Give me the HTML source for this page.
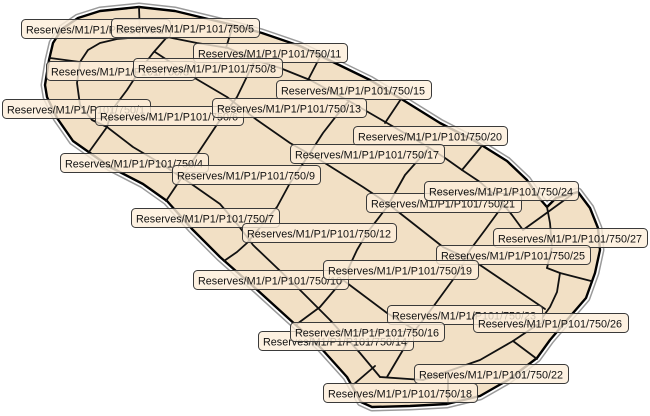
<!DOCTYPE html>
<html>
<head>
<meta charset="utf-8">
<style>
html,body{margin:0;padding:0;background:#fff;}
svg{display:block;}
.lbl rect{fill:rgba(253,238,218,0.8);stroke:#3a3a3a;stroke-width:1;}
.lbl text{font-family:"Liberation Sans",sans-serif;font-size:10.8px;fill:#111;}
.ln{fill:none;stroke:#111;stroke-width:1.8;stroke-linejoin:round;stroke-linecap:round;}
</style>
</head>
<body>
<svg width="650" height="416" viewBox="0 0 650 416" xmlns="http://www.w3.org/2000/svg">
<rect width="650" height="416" fill="#fff"/>
<g>
<polygon id="outer" points="45,85 49,60 53,43 62,29 78,18 100,11 139,7 175,11 233,25 262,33 300,46 333,62 370,80 403,100 440,123 475,141 507,161 527,180 540,199 547,207 556,198 578,192 590,208 598,228 600,250 595,273 586,298 567,320 550,340 537,358 508,380 480,396 447,404 410,406 372,407 361,402 347,377 320,347 287,317 254,287 220,257 192,229 167,201 143,184 110,167 73,141 57,118 47,97" fill="none" stroke="#9a9a9a" stroke-width="9" stroke-linejoin="round"/>
<polygon points="45,85 49,60 53,43 62,29 78,18 100,11 139,7 175,11 233,25 262,33 300,46 333,62 370,80 403,100 440,123 475,141 507,161 527,180 540,199 547,207 556,198 578,192 590,208 598,228 600,250 595,273 586,298 567,320 550,340 537,358 508,380 480,396 447,404 410,406 372,407 361,402 347,377 320,347 287,317 254,287 220,257 192,229 167,201 143,184 110,167 73,141 57,118 47,97" fill="none" stroke="#fff" stroke-width="6" stroke-linejoin="round"/>
<polygon points="45,85 49,60 53,43 62,29 78,18 100,11 139,7 175,11 233,25 262,33 300,46 333,62 370,80 403,100 440,123 475,141 507,161 527,180 540,199 547,207 556,198 578,192 590,208 598,228 600,250 595,273 586,298 567,320 550,340 537,358 508,380 480,396 447,404 410,406 372,407 361,402 347,377 320,347 287,317 254,287 220,257 192,229 167,201 143,184 110,167 73,141 57,118 47,97" fill="#f2e0c5" stroke="#000" stroke-width="2.4" stroke-linejoin="round"/>
</g>
<g class="ln-group">
<polyline class="ln" points="139,7 140,37"/>
<polyline class="ln" points="50,58 80,62"/>
<polyline class="ln" points="80,62 88,50 100,43 117,39 140,37 167,37 197,43 228,48 255,60 280,68 310,80 349,101 387,123 425,145 445,158 462,170 480,182 498,198 512,215 523,230"/>
<polyline class="ln" points="80,62 77,83 80,105 92,120 107,127"/>
<polyline class="ln" points="107,127 133,147 160,163 190,183 220,204 238,225 253,245 275,266 297,287 330,320 360,353 380,377"/>
<polyline class="ln" points="155,52 193,77 227,97 257,120 290,143 320,160 363,187 387,203 443,247 477,263 545,309"/>
<polyline class="ln" points="167,37 153,53 140,70 127,90 112,110 107,127 89,152"/>
<polyline class="ln" points="255,60 237,97 220,120 200,150 180,180 166,201"/>
<polyline class="ln" points="349,101 337,115 323,133 310,153 290,183 277,207 262,225 247,243 237,252 224,261"/>
<polyline class="ln" points="428,149 405,175 387,207 367,233 357,250 343,280 320,307 297,324"/>
<polyline class="ln" points="504,204 485,230 470,250 460,270 433,307 413,333 400,355 387,377"/>
<polyline class="ln" points="343,280 387,313 415,330"/>
<polyline class="ln" points="380,377 423,380"/>
<polyline class="ln" points="423,380 480,360 513,341 537,325 550,307 557,292 560,273"/>
<polyline class="ln" points="547,207 550,223 552,247 547,268"/>
<polyline class="ln" points="547,268 560,273 591,281"/>
<polyline class="ln" points="523,230 548,212 574,193"/>
<polyline class="ln" points="513,341 537,359"/>
<polyline class="ln" points="448,373 448,404"/>
<polyline class="ln" points="375,366 353,385"/>
<polyline class="ln" points="233,25 226,48"/>
<polyline class="ln" points="321,55 308,80"/>
<polyline class="ln" points="401,99 385,123"/>
<polyline class="ln" points="481,147 462,170"/>
</g>

<g class="lbl"><rect x="21.5" y="19.5" width="149" height="19" rx="4"/><text x="26" y="33.5">Reserves/M1/P1/P101/750/2</text></g>
<g class="lbl"><rect x="111.5" y="18.5" width="148" height="19" rx="4"/><text x="116" y="32.5">Reserves/M1/P1/P101/750/5</text></g>
<g class="lbl"><rect x="46.5" y="61.5" width="149" height="19" rx="4"/><text x="51" y="75.5">Reserves/M1/P1/P101/750/3</text></g>
<g class="lbl"><rect x="193.5" y="43.5" width="154" height="19" rx="4"/><text x="198" y="57.5">Reserves/M1/P1/P101/750/11</text></g>
<g class="lbl"><rect x="133.5" y="58.5" width="149" height="19" rx="4"/><text x="138" y="72.5">Reserves/M1/P1/P101/750/8</text></g>
<g class="lbl"><rect x="276.5" y="80.5" width="155" height="19" rx="4"/><text x="281" y="94.5">Reserves/M1/P1/P101/750/15</text></g>
<g class="lbl"><rect x="2.5" y="99.5" width="148" height="19" rx="4"/><text x="7" y="113.5">Reserves/M1/P1/P101/750/1</text></g>
<g class="lbl"><rect x="95.5" y="106.5" width="148" height="19" rx="4"/><text x="100" y="120.5">Reserves/M1/P1/P101/750/6</text></g>
<g class="lbl"><rect x="212.5" y="98.5" width="154" height="19" rx="4"/><text x="217" y="112.5">Reserves/M1/P1/P101/750/13</text></g>
<g class="lbl"><rect x="353.5" y="126.5" width="154" height="19" rx="4"/><text x="358" y="140.5">Reserves/M1/P1/P101/750/20</text></g>
<g class="lbl"><rect x="290.5" y="144.5" width="154" height="19" rx="4"/><text x="295" y="158.5">Reserves/M1/P1/P101/750/17</text></g>
<g class="lbl"><rect x="60.5" y="153.5" width="148" height="19" rx="4"/><text x="65" y="167.5">Reserves/M1/P1/P101/750/4</text></g>
<g class="lbl"><rect x="172.5" y="165.5" width="148" height="19" rx="4"/><text x="177" y="179.5">Reserves/M1/P1/P101/750/9</text></g>
<g class="lbl"><rect x="366.5" y="193.5" width="155" height="19" rx="4"/><text x="371" y="207.5">Reserves/M1/P1/P101/750/21</text></g>
<g class="lbl"><rect x="424.5" y="181.5" width="154" height="19" rx="4"/><text x="429" y="195.5">Reserves/M1/P1/P101/750/24</text></g>
<g class="lbl"><rect x="131.5" y="208.5" width="148" height="19" rx="4"/><text x="136" y="222.5">Reserves/M1/P1/P101/750/7</text></g>
<g class="lbl"><rect x="242.5" y="223.5" width="154" height="19" rx="4"/><text x="247" y="237.5">Reserves/M1/P1/P101/750/12</text></g>
<g class="lbl"><rect x="493.5" y="228.5" width="154" height="19" rx="4"/><text x="498" y="242.5">Reserves/M1/P1/P101/750/27</text></g>
<g class="lbl"><rect x="436.5" y="245.5" width="154" height="19" rx="4"/><text x="441" y="259.5">Reserves/M1/P1/P101/750/25</text></g>
<g class="lbl"><rect x="193.5" y="270.5" width="155" height="19" rx="4"/><text x="198" y="284.5">Reserves/M1/P1/P101/750/10</text></g>
<g class="lbl"><rect x="323.5" y="260.5" width="155" height="19" rx="4"/><text x="328" y="274.5">Reserves/M1/P1/P101/750/19</text></g>
<g class="lbl"><rect x="387.5" y="305.5" width="155" height="19" rx="4"/><text x="392" y="319.5">Reserves/M1/P1/P101/750/23</text></g>
<g class="lbl"><rect x="473.5" y="313.5" width="155" height="19" rx="4"/><text x="478" y="327.5">Reserves/M1/P1/P101/750/26</text></g>
<g class="lbl"><rect x="258.5" y="331.5" width="155" height="19" rx="4"/><text x="263" y="345.5">Reserves/M1/P1/P101/750/14</text></g>
<g class="lbl"><rect x="290.5" y="322.5" width="154" height="19" rx="4"/><text x="295" y="336.5">Reserves/M1/P1/P101/750/16</text></g>
<g class="lbl"><rect x="414.5" y="364.5" width="154" height="19" rx="4"/><text x="419" y="378.5">Reserves/M1/P1/P101/750/22</text></g>
<g class="lbl"><rect x="323.5" y="383.5" width="154" height="19" rx="4"/><text x="328" y="397.5">Reserves/M1/P1/P101/750/18</text></g>
</svg>
</body>
</html>
